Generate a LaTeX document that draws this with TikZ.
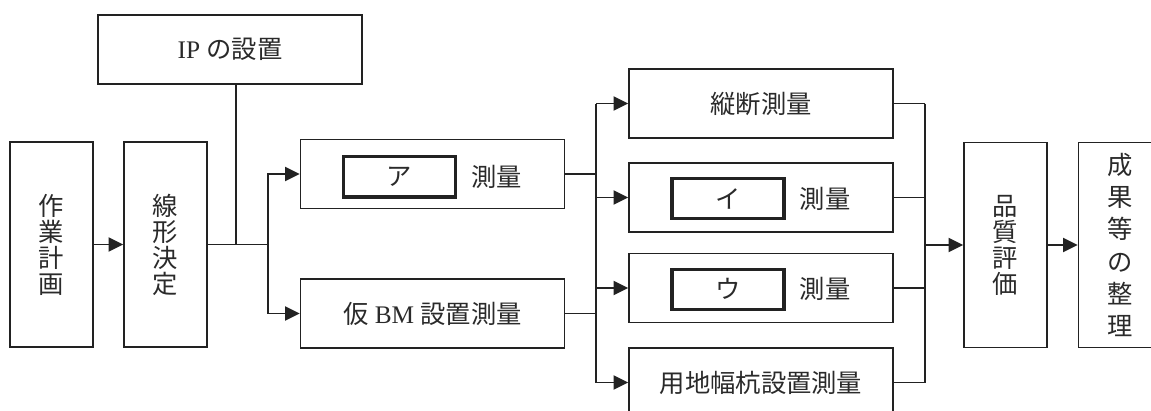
\documentclass[tikz,border=0pt]{standalone}
\usepackage{fontspec}
\setmainfont{Liberation Serif}
\newfontfamily\jp{Noto Sans CJK JP}
\definecolor{Linecol}{HTML}{222222}
\definecolor{Textcol}{HTML}{2A2A2A}
\usetikzlibrary{arrows.meta, positioning}
\tikzset{
    >={Triangle[length=10.5pt, width=10pt]},
    font=\fontsize{18pt}{22pt}\selectfont,
    box/.style={draw=Linecol, line width=1pt, text=Textcol, inner sep=0pt, align=center},
    tallbox/.style={box, minimum width=2.075cm, minimum height=5.125cm, font=\fontsize{18pt}{18.5pt}\selectfont\jp},
    widebox/.style={box, minimum width=6.6cm, minimum height=1.725cm},
    blankbox/.style={draw=Linecol, line width=2.4pt, minimum width=2.8cm, minimum height=1cm, inner sep=0pt, text=Textcol, font=\fontsize{18pt}{22pt}\selectfont\jp},
    word/.style={inner sep=0pt, text=Textcol, font=\fontsize{18pt}{22pt}\selectfont\jp},
    link/.style={draw=Linecol, line width=1.4pt}
}

\begin{document}
\begin{tikzpicture}[x=0.025cm, y=-0.025cm]
    \useasboundingbox (0,0) rectangle (1151,410);

    % Planning and route
    \node[tallbox] (plan) at (51.5,244.5) {作\\業\\計\\画};
    \node[tallbox] (route) at (165.5,244.5) {線\\形\\決\\定};
    \node[widebox] (ip) at (230,49.5) {IP {\jp の設置}};

    % First stage
    \node[widebox] (aSurvey) at (432.5,174) {};
    \node[blankbox] (aBlank) at ([xshift=-0.825cm, yshift=-0.07cm]aSurvey.center) {ア};
    \node[word, right=0.35cm of aBlank] (aWord) {測量};
    \node[widebox] (bmSurvey) at (432.5,313.5) {{\jp 仮} BM {\jp 設置測量}};

    % Second stage
    \node[widebox, font=\fontsize{18pt}{22pt}\selectfont\jp] (profile) at (761,103.5) {縦断測量};
    \node[widebox] (iSurvey) at (761,197.5) {};
    \node[blankbox] (iBlank) at ([xshift=-0.825cm, yshift=-0.03cm]iSurvey.center) {イ};
    \node[word, right=0.35cm of iBlank] (iWord) {測量};
    \node[widebox] (uSurvey) at (761,288) {};
    \node[blankbox] (uBlank) at ([xshift=-0.825cm, yshift=-0.03cm]uSurvey.center) {ウ};
    \node[word, right=0.35cm of uBlank] (uWord) {測量};
    \node[widebox, font=\fontsize{18pt}{22pt}\selectfont\jp] (landStake) at (761,382.5) {用地幅杭設置測量};

    % Check and results
    \node[tallbox] (quality) at (1005.5,245) {品\\質\\評\\価};
    \node[tallbox, font=\fontsize{18pt}{23pt}\selectfont\jp] (result) at (1120,245) {成\\果\\等\\の\\整\\理};

    % Connectors
    \coordinate (split) at (268,244.5);
    \coordinate (ipFoot) at (236,244.5);
    \coordinate (fork) at (596,0);
    \coordinate (merge) at (925,0);

    \draw[link, ->] (plan) -- (route);
    \draw[link] (route) -- (split);
    \draw[link] (ipFoot |- ip.south) -- (ipFoot);
    \draw[link, ->] (split) |- (aSurvey);
    \draw[link, ->] (split) |- (bmSurvey);

    \draw[link] (aSurvey) -- (aSurvey -| fork);
    \draw[link] (bmSurvey) -- (bmSurvey -| fork);
    \draw[link] (fork |- profile) -- (fork |- landStake);
    \foreach \n in {profile, iSurvey, uSurvey, landStake}
        \draw[link, ->] (fork |- \n) -- (\n);

    \foreach \n in {profile, iSurvey, uSurvey, landStake}
        \draw[link] (\n) -- (\n -| merge);
    \draw[link] (merge |- profile) -- (merge |- landStake);
    \draw[link, ->] (merge |- quality) -- (quality);
    \draw[link, ->] (quality) -- (result);
\end{tikzpicture}
\end{document}
